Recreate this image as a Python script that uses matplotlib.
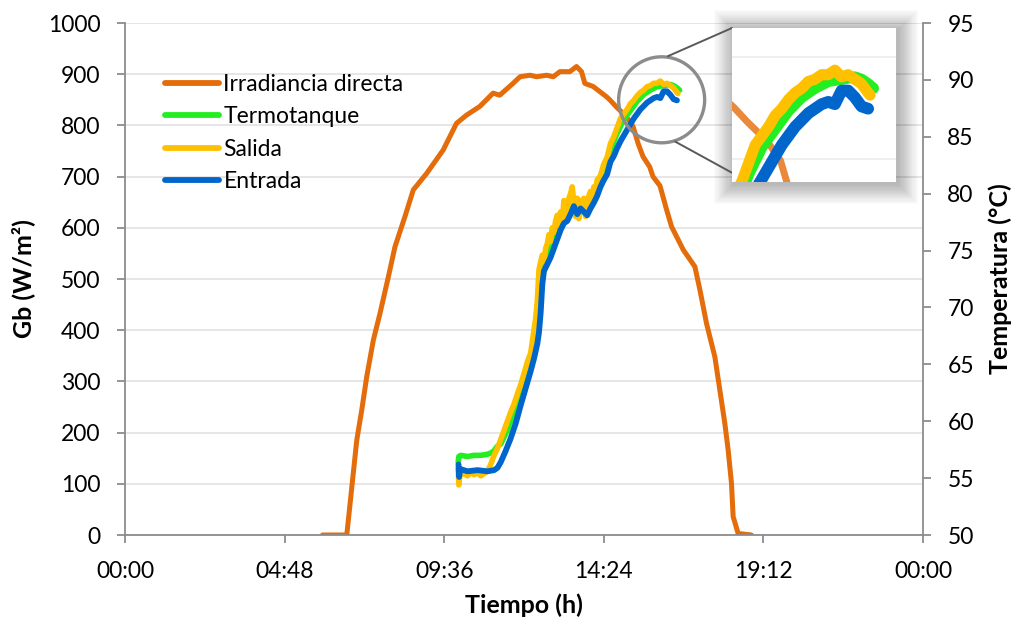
import math
import matplotlib
matplotlib.use("Agg")
import matplotlib.pyplot as plt
from matplotlib.patches import Circle, Rectangle, ConnectionPatch
from matplotlib.transforms import IdentityTransform
from matplotlib.lines import Line2D

# ---------------- data ----------------
x_ticks = [0, 4.8, 9.6, 14.4, 19.2, 24]
x_tick_labels = ["00:00", "04:48", "09:36", "14:24", "19:12", "00:00"]
gb_ticks = [0, 100, 200, 300, 400, 500, 600, 700, 800, 900, 1000]
temp_ticks = [50, 55, 60, 65, 70, 75, 80, 85, 90, 95]

irr_h = [5.94, 6.67, 6.97, 7.12, 7.27, 7.47, 7.67, 7.92, 8.12, 8.42, 8.67, 9.07,
         9.57, 9.97, 10.27, 10.67, 11.07, 11.27, 11.67, 11.88, 12.18, 12.38, 12.68,
         12.88, 13.08, 13.38, 13.58, 13.73, 13.83, 14.08, 14.28, 14.48, 14.58,
         14.78, 15.08, 15.28, 15.43, 15.58, 15.78, 15.88, 16.09, 16.29, 16.44,
         16.79, 17.14, 17.29, 17.49, 17.74, 17.89, 18.04, 18.14, 18.24, 18.29,
         18.44, 18.84]
irr_gb = [0, 0, 185, 244, 309, 381, 433, 504, 563, 622, 674, 706,
          752, 804, 820, 837, 863, 859, 882, 895, 898, 895, 898,
          895, 905, 905, 915, 905, 882, 876, 866, 856, 850,
          836, 817, 798, 765, 739, 719, 700, 682, 635, 602,
          557, 524, 479, 413, 348, 283, 218, 166, 101, 36,
          3, 0]

termo_h = [10.02, 10.04, 10.1, 10.3, 10.5, 10.7, 10.9, 11.0, 11.1, 11.2, 11.3,
           11.5, 11.7, 11.9, 12.1, 12.3, 12.4, 12.5, 12.6, 12.8, 13.0, 13.2,
           13.4, 13.6, 13.8, 14.0, 14.2, 14.4, 14.6, 14.8, 15.0, 15.2, 15.4,
           15.6, 15.8, 16.0, 16.2, 16.4, 16.5, 16.6, 16.68]
termo_t = [56.4, 56.9, 57.0, 56.9, 57.0, 57.0, 57.1, 57.2, 57.4, 57.8, 58.0,
           59.2, 60.8, 62.4, 64.2, 66.6, 68.5, 72.5, 73.8, 75.2, 76.8, 78.0,
           78.9, 78.8, 78.8, 79.4, 80.6, 82.0, 83.8, 85.3, 86.5, 87.3, 88.1,
           88.7, 89.1, 89.4, 89.5, 89.6, 89.5, 89.3, 89.1]

salida_h = [10.02, 10.04, 10.07, 10.2, 10.3, 10.4, 10.5, 10.6, 10.7, 10.8, 10.9,
            11.0, 11.1, 11.2, 11.3, 11.4, 11.5, 11.6, 11.7, 11.8, 11.9, 12.0,
            12.1, 12.2, 12.3, 12.35, 12.4, 12.45, 12.5, 12.55, 12.6, 12.65, 12.7,
            12.75, 12.8, 12.85, 12.9, 12.95, 13.0, 13.05, 13.1, 13.15, 13.2,
            13.25, 13.3, 13.35, 13.4, 13.45, 13.5, 13.55, 13.6, 13.65, 13.7,
            13.75, 13.8, 13.85, 13.9, 13.95, 14.0, 14.05, 14.1, 14.15, 14.2,
            14.3, 14.4, 14.5, 14.6, 14.7, 14.8, 14.9, 15.0, 15.1, 15.2, 15.3,
            15.4, 15.5, 15.6, 15.7, 15.8, 15.9, 16.0, 16.1, 16.2, 16.3, 16.4,
            16.5, 16.6, 16.63]
salida_t = [55.8, 54.4, 55.3, 55.4, 55.2, 55.5, 55.3, 55.5, 55.2, 55.4, 55.6,
            56.2, 57.0, 57.6, 58.4, 59.2, 60.0, 60.8, 61.5, 62.4, 63.2, 64.2,
            65.2, 66.0, 68.0, 69.0, 70.6, 73.3, 74.0, 74.6, 74.0, 75.2, 75.6,
            76.4, 75.8, 77.0, 76.6, 77.6, 78.1, 77.2, 78.4, 77.4, 79.4,
            78.6, 78.0, 79.6, 80.0, 80.6, 79.2, 78.0, 79.6, 77.8, 79.4,
            78.6, 79.6, 78.0, 78.4, 79.8, 80.2, 79.6, 80.6, 80.4, 81.2,
            81.6, 82.6, 83.2, 84.4, 85.0, 85.8, 86.6, 87.0, 87.4, 87.9, 88.2,
            88.6, 88.9, 89.1, 89.4, 89.5, 89.7, 89.7, 89.9, 89.6, 89.7, 89.5,
            89.3, 88.9, 88.8]

entrada_h = [10.03, 10.05, 10.08, 10.3, 10.6, 10.9, 11.1, 11.2, 11.3, 11.45, 11.6,
             11.75, 11.9, 12.05, 12.2, 12.3, 12.4, 12.45, 12.5, 12.55, 12.6, 12.7,
             12.8, 12.9, 13.0, 13.1, 13.2, 13.3, 13.4, 13.5, 13.6, 13.7, 13.8,
             13.9, 14.0, 14.1, 14.2, 14.3, 14.4, 14.5, 14.6, 14.7, 14.8, 14.9,
             15.0, 15.1, 15.2, 15.3, 15.4, 15.5, 15.6, 15.7, 15.8, 15.9, 16.0,
             16.1, 16.2, 16.3, 16.4, 16.5, 16.6]
entrada_t = [56.2, 55.1, 55.8, 55.6, 55.7, 55.6, 55.7, 55.9, 56.4, 57.4, 58.5,
             59.8, 61.4, 62.9, 64.4, 65.5, 66.8, 67.8, 69.5, 72.0, 73.2, 73.8,
             74.4, 75.2, 76.0, 76.8, 77.4, 77.6, 78.2, 78.9, 78.2, 78.7, 78.4,
             78.1, 78.7, 79.2, 79.8, 80.6, 81.2, 81.7, 82.8, 83.3, 84.0, 84.6,
             85.1, 85.6, 86.1, 86.6, 87.0, 87.4, 87.7, 88.0, 88.2, 88.4, 88.5,
             88.4, 89.0, 89.0, 88.7, 88.3, 88.2]

series_labels = ["Irradiancia directa", "Termotanque", "Salida", "Entrada"]
series_colors = ["#E46C0A", "#22EE22", "#FFC000", "#0066CC"]

# ---------------- style ----------------
plt.rcParams["font.family"] = ["Lato", "DejaVu Sans"]
W, H = 1017, 622
fig = plt.figure(figsize=(W / 100, H / 100), dpi=100)
spine_c = "#8C8C8C"
grid_c = "#E6E6E6"
fs = 16.5
lab_fs = 18

L, R, T, B = 125, 923, 23, 535
ax = fig.add_axes([L / W, 1 - B / H, (R - L) / W, (B - T) / H])
ax2 = ax.twinx()

ax.set_xlim(0, 24)
ax.set_ylim(0, 1000)
ax2.set_ylim(50, 95)
ax.set_xticks(x_ticks)
ax.set_xticklabels(x_tick_labels)
ax.set_yticks(gb_ticks)
ax2.set_yticks(temp_ticks)

ax.grid(axis="y", color=grid_c, lw=1.4)
ax.set_axisbelow(True)
for a in (ax, ax2):
    for s in a.spines.values():
        s.set_color(spine_c)
        s.set_linewidth(1.3)
    a.spines["top"].set_visible(False)
    a.tick_params(colors=spine_c, width=1.3, length=6, labelsize=fs,
                  labelcolor="#000000")
ax.spines["right"].set_visible(False)
ax2.spines["left"].set_visible(False)
ax2.spines["bottom"].set_visible(False)
ax.tick_params(axis="x", pad=12.5)
ax.tick_params(axis="y", pad=11.5)
ax2.tick_params(axis="y", pad=11.5)

lw = 3.6
ax.plot(irr_h, irr_gb, color=series_colors[0], lw=lw,
        solid_capstyle="round", solid_joinstyle="round")
ax2.plot(termo_h, termo_t, color=series_colors[1], lw=4.0,
         solid_capstyle="round", solid_joinstyle="round")
ax2.plot(salida_h, salida_t, color=series_colors[2], lw=4.0,
         solid_capstyle="round", solid_joinstyle="round")
ax2.plot(entrada_h, entrada_t, color=series_colors[3], lw=4.2,
         solid_capstyle="round", solid_joinstyle="round")

ax.set_ylabel("Gb (W/m²)", fontsize=lab_fs, fontweight="bold")
ax.yaxis.set_label_coords(-0.113, 0.5)
ax2.set_ylabel("Temperatura (°C)", fontsize=lab_fs, fontweight="bold")
ax2.yaxis.set_label_coords(1.082, 0.5)
ax.set_xlabel("Tiempo (h)", fontsize=lab_fs, fontweight="bold")
ax.xaxis.set_label_coords(0.5, -0.115)

handles = [Line2D([], [], color=c, lw=4.2, solid_capstyle="round") for c in series_colors]
ax2.legend(handles, series_labels, loc="upper left",
           bbox_to_anchor=(165 / W, 1 - 74 / H), bbox_transform=fig.transFigure,
           frameon=False, fontsize=fs, handlelength=2.35, handletextpad=0.2,
           labelspacing=0.5, borderpad=0, borderaxespad=0)

# ---------------- zoom inset ----------------
zoom_h = (14.55, 17.02)
zoom_gb = (777, 928)
ix0, iy0, iw, ih = 732, 28, 164, 154
# soft shadow
for i in range(18):
    e = 1.1 * (i + 1)
    fig.add_artist(Rectangle(((ix0 - e + 2) / W, 1 - (iy0 + ih + e + 2) / H),
                             (iw + 2 * e) / W, (ih + 2 * e) / H,
                             transform=fig.transFigure, facecolor="#000000",
                             edgecolor="none", alpha=0.014, zorder=5))
axi = fig.add_axes([ix0 / W, 1 - (iy0 + ih) / H, iw / W, ih / H], zorder=10)
axi.set_xlim(*zoom_h)
axi.set_ylim(*zoom_gb)
axi.grid(axis="y", color="#EFEFEF", lw=1.4)
axi.set_yticks([800, 900])
axi.set_axisbelow(True)
axi.plot(irr_h, irr_gb, color=series_colors[0], lw=5, alpha=0.8,
         solid_joinstyle="round", solid_capstyle="round")
axi2 = axi.twinx()
axi2.set_ylim(50 + zoom_gb[0] * 0.045, 50 + zoom_gb[1] * 0.045)
axi2.plot(termo_h, termo_t, color=series_colors[1], lw=8,
          solid_joinstyle="round", solid_capstyle="round")
axi2.plot(salida_h, salida_t, color=series_colors[2], lw=8,
          solid_joinstyle="round", solid_capstyle="round")
axi2.plot(entrada_h, entrada_t, color=series_colors[3], lw=8.5,
          solid_joinstyle="round", solid_capstyle="round")
for a in (axi, axi2):
    a.set_xticks([])
    a.tick_params(left=False, right=False, labelleft=False, labelright=False)
    for s in a.spines.values():
        s.set_visible(False)

# circle marking the zoomed region
circ_center = (16.14, 850)
cx, cy = ax.transData.transform(circ_center)
r = 43
fig.add_artist(Circle((cx, cy), r, transform=IdentityTransform(), fill=False,
                      edgecolor="#8C8C8C", lw=2.4, zorder=6))
for ang, fy in ((82, 1.0), (-72, 0.06)):
    px = cx + (r + 1) * math.cos(math.radians(ang))
    py = cy + (r + 1) * math.sin(math.radians(ang))
    con = ConnectionPatch(xyA=(px, py), coordsA="figure pixels",
                          xyB=(0, fy), coordsB=axi.transAxes,
                          color="#595959", lw=1.4, zorder=6)
    fig.add_artist(con)

fig.savefig("out.png", dpi=100)
